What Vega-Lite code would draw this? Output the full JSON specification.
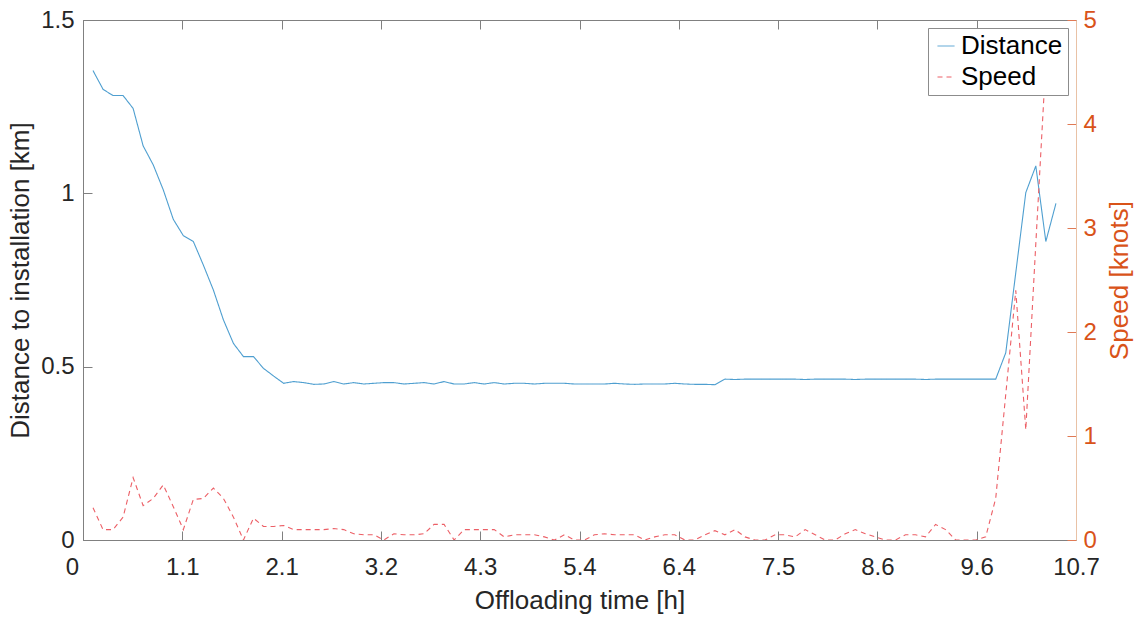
{
  "$schema": "https://vega.github.io/schema/vega-lite/v6.json",
  "width": 993,
  "height": 520,
  "autosize": {"type": "none"},
  "padding": {"left": 83, "top": 20, "right": 65, "bottom": 80},
  "background": "white",
  "config": {
    "view": {"stroke": "#808080", "strokeWidth": 1},
    "font": "Liberation Sans",
    "axis": {"labelFont": "Liberation Sans", "titleFont": "Liberation Sans", "labelFontSize": 24, "titleFontSize": 26, "titleFontWeight": "normal", "grid": false, "labelColor": "#262626", "titleColor": "#262626", "domainColor": "#808080", "tickColor": "#808080", "tickSize": -9, "tickWidth": 1, "labelFlush": false, "labelOverlap": false},
    "legend": {"orient": "top-right", "offset": 8, "fillColor": "white", "strokeColor": "#8c8c8c", "padding": 5, "labelFont": "Liberation Sans", "labelFontSize": 26, "labelColor": "#000000", "symbolType": "stroke", "symbolSize": 289, "symbolStrokeWidth": 1, "labelOffset": 2, "rowPadding": 5}
  },
  "data": {"values": [
    {"t": 0.108, "distance": 1.354, "speed": 0.31},
    {"t": 0.216, "distance": 1.300, "speed": 0.10},
    {"t": 0.324, "distance": 1.282, "speed": 0.10},
    {"t": 0.432, "distance": 1.282, "speed": 0.22},
    {"t": 0.540, "distance": 1.245, "speed": 0.60},
    {"t": 0.648, "distance": 1.137, "speed": 0.33},
    {"t": 0.757, "distance": 1.082, "speed": 0.40},
    {"t": 0.865, "distance": 1.010, "speed": 0.53},
    {"t": 0.973, "distance": 0.925, "speed": 0.32},
    {"t": 1.081, "distance": 0.878, "speed": 0.10},
    {"t": 1.189, "distance": 0.861, "speed": 0.39},
    {"t": 1.297, "distance": 0.793, "speed": 0.40},
    {"t": 1.405, "distance": 0.721, "speed": 0.50},
    {"t": 1.513, "distance": 0.635, "speed": 0.40},
    {"t": 1.621, "distance": 0.567, "speed": 0.22},
    {"t": 1.729, "distance": 0.529, "speed": 0.00},
    {"t": 1.837, "distance": 0.529, "speed": 0.21},
    {"t": 1.945, "distance": 0.495, "speed": 0.13},
    {"t": 2.054, "distance": 0.473, "speed": 0.13},
    {"t": 2.162, "distance": 0.452, "speed": 0.14},
    {"t": 2.270, "distance": 0.457, "speed": 0.10},
    {"t": 2.378, "distance": 0.454, "speed": 0.10},
    {"t": 2.486, "distance": 0.449, "speed": 0.10},
    {"t": 2.594, "distance": 0.450, "speed": 0.10},
    {"t": 2.702, "distance": 0.457, "speed": 0.11},
    {"t": 2.810, "distance": 0.450, "speed": 0.10},
    {"t": 2.918, "distance": 0.454, "speed": 0.06},
    {"t": 3.026, "distance": 0.450, "speed": 0.05},
    {"t": 3.134, "distance": 0.452, "speed": 0.05},
    {"t": 3.242, "distance": 0.454, "speed": 0.00},
    {"t": 3.350, "distance": 0.454, "speed": 0.06},
    {"t": 3.459, "distance": 0.450, "speed": 0.05},
    {"t": 3.567, "distance": 0.452, "speed": 0.05},
    {"t": 3.675, "distance": 0.454, "speed": 0.06},
    {"t": 3.783, "distance": 0.450, "speed": 0.15},
    {"t": 3.891, "distance": 0.457, "speed": 0.15},
    {"t": 3.999, "distance": 0.450, "speed": 0.00},
    {"t": 4.107, "distance": 0.450, "speed": 0.10},
    {"t": 4.215, "distance": 0.454, "speed": 0.10},
    {"t": 4.323, "distance": 0.450, "speed": 0.10},
    {"t": 4.431, "distance": 0.454, "speed": 0.10},
    {"t": 4.539, "distance": 0.450, "speed": 0.03},
    {"t": 4.647, "distance": 0.452, "speed": 0.05},
    {"t": 4.756, "distance": 0.452, "speed": 0.05},
    {"t": 4.864, "distance": 0.450, "speed": 0.05},
    {"t": 4.972, "distance": 0.452, "speed": 0.03},
    {"t": 5.080, "distance": 0.452, "speed": 0.00},
    {"t": 5.188, "distance": 0.452, "speed": 0.05},
    {"t": 5.296, "distance": 0.450, "speed": 0.00},
    {"t": 5.404, "distance": 0.450, "speed": 0.00},
    {"t": 5.512, "distance": 0.450, "speed": 0.05},
    {"t": 5.620, "distance": 0.450, "speed": 0.06},
    {"t": 5.728, "distance": 0.452, "speed": 0.05},
    {"t": 5.836, "distance": 0.450, "speed": 0.05},
    {"t": 5.944, "distance": 0.449, "speed": 0.05},
    {"t": 6.052, "distance": 0.450, "speed": 0.00},
    {"t": 6.161, "distance": 0.450, "speed": 0.03},
    {"t": 6.269, "distance": 0.450, "speed": 0.05},
    {"t": 6.377, "distance": 0.452, "speed": 0.05},
    {"t": 6.485, "distance": 0.450, "speed": 0.00},
    {"t": 6.593, "distance": 0.449, "speed": 0.00},
    {"t": 6.701, "distance": 0.449, "speed": 0.05},
    {"t": 6.809, "distance": 0.448, "speed": 0.09},
    {"t": 6.917, "distance": 0.464, "speed": 0.05},
    {"t": 7.025, "distance": 0.463, "speed": 0.10},
    {"t": 7.133, "distance": 0.464, "speed": 0.03},
    {"t": 7.241, "distance": 0.464, "speed": 0.00},
    {"t": 7.349, "distance": 0.464, "speed": 0.00},
    {"t": 7.458, "distance": 0.464, "speed": 0.05},
    {"t": 7.566, "distance": 0.464, "speed": 0.05},
    {"t": 7.674, "distance": 0.464, "speed": 0.03},
    {"t": 7.782, "distance": 0.463, "speed": 0.10},
    {"t": 7.890, "distance": 0.464, "speed": 0.05},
    {"t": 7.998, "distance": 0.464, "speed": 0.00},
    {"t": 8.106, "distance": 0.464, "speed": 0.00},
    {"t": 8.214, "distance": 0.464, "speed": 0.06},
    {"t": 8.322, "distance": 0.463, "speed": 0.10},
    {"t": 8.430, "distance": 0.464, "speed": 0.06},
    {"t": 8.538, "distance": 0.464, "speed": 0.03},
    {"t": 8.646, "distance": 0.464, "speed": 0.00},
    {"t": 8.754, "distance": 0.464, "speed": 0.00},
    {"t": 8.863, "distance": 0.464, "speed": 0.05},
    {"t": 8.971, "distance": 0.464, "speed": 0.05},
    {"t": 9.079, "distance": 0.463, "speed": 0.03},
    {"t": 9.187, "distance": 0.464, "speed": 0.15},
    {"t": 9.295, "distance": 0.464, "speed": 0.10},
    {"t": 9.403, "distance": 0.464, "speed": 0.00},
    {"t": 9.511, "distance": 0.464, "speed": 0.00},
    {"t": 9.619, "distance": 0.464, "speed": 0.00},
    {"t": 9.727, "distance": 0.464, "speed": 0.03},
    {"t": 9.835, "distance": 0.464, "speed": 0.40},
    {"t": 9.943, "distance": 0.540, "speed": 1.40},
    {"t": 10.051, "distance": 0.771, "speed": 2.40},
    {"t": 10.159, "distance": 1.002, "speed": 1.06},
    {"t": 10.267, "distance": 1.079, "speed": 2.85},
    {"t": 10.375, "distance": 0.861, "speed": 4.60},
    {"t": 10.484, "distance": 0.971, "speed": 4.90}
  ]},
  "layer": [
    {
      "mark": {"type": "line", "strokeWidth": 1.1, "clip": true},
      "encoding": {
        "x": {
          "field": "t",
          "type": "quantitative",
          "scale": {"domain": [0, 10.7], "nice": false, "zero": false},
          "axis": {
            "title": "Offloading time [h]",
            "orient": "bottom",
            "values": [0, 1.07, 2.14, 3.21, 4.28, 5.35, 6.42, 7.49, 8.56, 9.63, 10.7],
            "labelExpr": "datum.value == 0 ? '0' : format(datum.value + 0.001, '.1f')",
            "labelOffset": {"condition": {"test": "datum.value == 0", "value": -11}, "value": 0},
            "labelPadding": 24,
            "titlePadding": 8
          }
        },
        "y": {
          "field": "distance",
          "type": "quantitative",
          "scale": {"domain": [0, 1.5], "nice": false},
          "axis": {"title": "Distance to installation [km]", "values": [0, 0.5, 1, 1.5], "format": "~g", "labelPadding": 18, "titlePadding": 7}
        },
        "color": {"datum": "Distance", "type": "nominal", "scale": {"domain": ["Distance", "Speed"], "range": ["#4f9fd0", "#ec5f66"]}, "legend": {"title": null}},
        "strokeDash": {"datum": "Distance", "type": "nominal", "scale": {"domain": ["Distance", "Speed"], "range": [[1, 0], [5, 4]]}, "legend": {"title": null}}
      }
    },
    {
      "mark": {"type": "line", "strokeWidth": 1.1, "clip": true},
      "encoding": {
        "x": {
          "field": "t",
          "type": "quantitative",
          "scale": {"domain": [0, 10.7], "nice": false, "zero": false},
          "axis": {
            "title": null,
            "orient": "top",
            "values": [0, 1.07, 2.14, 3.21, 4.28, 5.35, 6.42, 7.49, 8.56, 9.63, 10.7],
            "labels": false,
            "domain": false
          }
        },
        "y": {
          "field": "speed",
          "type": "quantitative",
          "scale": {"domain": [0, 5], "nice": false},
          "axis": {"orient": "right", "title": "Speed [knots]", "titleAngle": 270, "titleBaseline": "top", "values": [0, 1, 2, 3, 4, 5], "format": "~g", "labelColor": "#D95319", "titleColor": "#D95319", "domainColor": "#e9c2a6", "tickColor": "#e07a55", "labelPadding": 16, "titlePadding": 10}
        },
        "color": {"datum": "Speed", "type": "nominal"},
        "strokeDash": {"datum": "Speed", "type": "nominal"}
      }
    }
  ],
  "resolve": {"scale": {"y": "independent"}, "axis": {"x": "independent"}}
}
